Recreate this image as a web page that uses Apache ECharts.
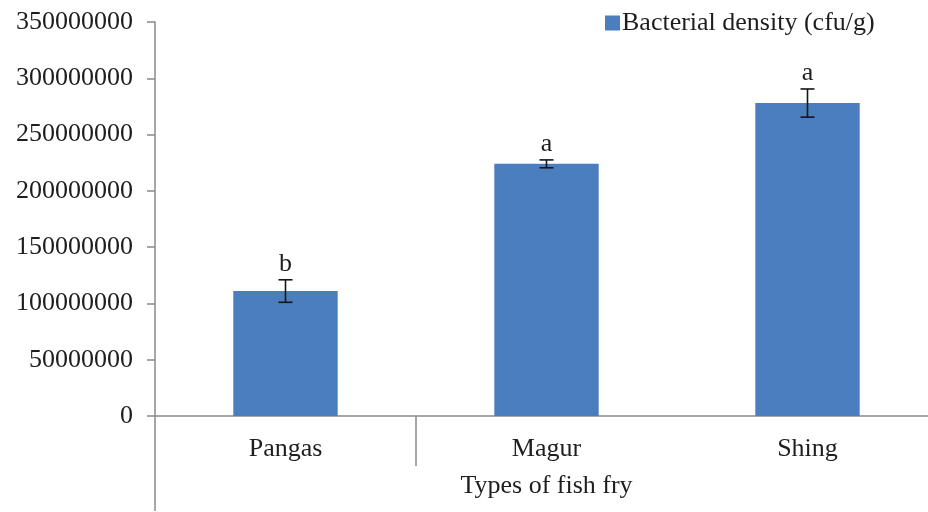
<!DOCTYPE html>
<html>
<head>
<meta charset="utf-8">
<script src="https://cdn.jsdelivr.net/npm/echarts@6/dist/echarts.min.js"></script>
<style>
  html, body { margin: 0; padding: 0; background: #fff; overflow: hidden; }
  /* the plot runs slightly past the right edge of the window */
  #chart { width: 940px; height: 512px; }
</style>
</head>
<body>
<div id="chart"></div>
<script>
// Bacterial density by type of fish fry (cfu/g), mean ± SE with significance letters
const categories = ['Pangas', 'Magur', 'Shing'];
const density = [111000000, 224000000, 278000000];
const densityError = [10000000, 3500000, 12500000];
const groupLetters = ['b', 'a', 'a'];
const yTicks = { min: 0, max: 350000000, step: 50000000 };

const seriesName = 'Bacterial density (cfu/g)';
const fontFamily = '"Liberation Serif", "Times New Roman", serif';
const fontSize = 26;
const axisGrey = '#8a8a8a';
const textColor = '#1e1e1e';

const chart = echarts.init(document.getElementById('chart'), null, { renderer: 'canvas' });

const errorData = density.map((v, i) => [i, v, densityError[i]]);

// helper axis spanning the category bands (0 .. n) for the long divider ticks
function bandTickAxis(position, length) {
  return {
    type: 'value',
    min: 0,
    max: categories.length,
    position: 'bottom',
    axisLine: { show: false },
    splitLine: { show: false },
    axisLabel: { show: false },
    axisTick: {
      show: true,
      length: length,
      customValues: [position],
      lineStyle: { color: axisGrey, width: 1.5 }
    }
  };
}

chart.setOption({
  animation: false,
  backgroundColor: '#ffffff',
  textStyle: { fontFamily: fontFamily, color: textColor },
  legend: {
    data: [seriesName],
    left: 600,
    top: 5,
    icon: 'rect',
    itemWidth: 15,
    itemHeight: 15,
    itemGap: 5,
    textStyle: { fontFamily: fontFamily, fontSize: fontSize, color: textColor, padding: [0, 0, 0, -3] }
  },
  grid: { left: 155, right: 2, top: 22, bottom: 96 },
  xAxis: [
    {
      type: 'category',
      data: categories,
      position: 'bottom',
      name: 'Types of fish fry',
      nameLocation: 'middle',
      nameGap: 57,
      nameTextStyle: { fontFamily: fontFamily, fontSize: fontSize, color: textColor },
      axisLine: { show: true, lineStyle: { color: axisGrey, width: 1.5 } },
      axisTick: { show: false },
      axisLabel: { fontFamily: fontFamily, fontSize: fontSize, color: textColor, margin: 20 }
    },
    // divider between the first and second group
    bandTickAxis(1, 50),
    // value axis line carried down below the category row
    bandTickAxis(0, 95)
  ],
  yAxis: {
    type: 'value',
    min: yTicks.min,
    max: yTicks.max,
    interval: yTicks.step,
    axisLine: { show: true, lineStyle: { color: axisGrey, width: 1.5 } },
    axisTick: { show: true, length: 8, lineStyle: { color: axisGrey, width: 1.5 } },
    splitLine: { show: false },
    axisLabel: {
      fontFamily: fontFamily,
      fontSize: fontSize,
      color: textColor,
      margin: 22,
      formatter: (v) => String(v)
    }
  },
  series: [
    {
      name: seriesName,
      type: 'bar',
      data: density,
      barWidth: '40%',
      itemStyle: { color: '#4a7ebe' }
    },
    {
      name: 'error',
      type: 'custom',
      data: errorData,
      z: 5,
      renderItem: function (params, api) {
        const idx = api.value(0);
        const mean = api.value(1);
        const err = api.value(2);
        const top = api.coord([idx, mean + err]);
        const bottom = api.coord([idx, mean - err]);
        const half = 7;
        const stroke = { stroke: '#151515', lineWidth: 1.6 };
        return {
          type: 'group',
          children: [
            { type: 'line', shape: { x1: top[0], y1: top[1], x2: bottom[0], y2: bottom[1] }, style: stroke },
            { type: 'line', shape: { x1: top[0] - half, y1: top[1], x2: top[0] + half, y2: top[1] }, style: stroke },
            { type: 'line', shape: { x1: bottom[0] - half, y1: bottom[1], x2: bottom[0] + half, y2: bottom[1] }, style: stroke },
            {
              type: 'text',
              style: {
                text: groupLetters[params.dataIndex],
                x: top[0],
                y: top[1] - 3,
                align: 'center',
                verticalAlign: 'bottom',
                fontFamily: fontFamily,
                fontSize: fontSize,
                fill: textColor
              }
            }
          ]
        };
      }
    }
  ]
});
</script>
</body>
</html>
